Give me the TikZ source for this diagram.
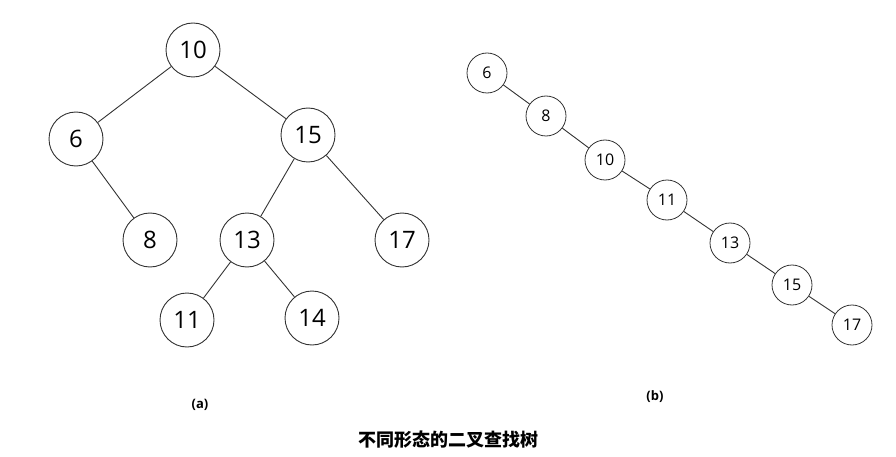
\documentclass[tikz,border=0pt]{standalone}
\usepackage{fontspec}
\setmainfont{Open Sans}
\newfontfamily\cjk{Noto Sans CJK SC}
\definecolor{ln}{HTML}{333333}
\begin{document}
\begin{tikzpicture}[x=1pt,y=-1pt,
  big/.style={circle,draw=ln,line width=0.9pt,minimum size=54pt,inner sep=0pt,font=\fontsize{24}{26}\selectfont},
  small/.style={circle,draw=ln,line width=0.8pt,minimum size=40pt,inner sep=0pt,font=\fontsize{16}{18}\selectfont},
  edge/.style={draw=ln,line width=0.9pt}]
\useasboundingbox (0,0) rectangle (896,457);
\node[big] (a10) at (193,50) {10};
\node[big] (a6) at (76,139) {6};
\node[big] (a15) at (308,135) {15};
\node[big] (a8) at (150,240) {8};
\node[big] (a13) at (247,240) {13};
\node[big] (a17) at (402,240) {17};
\node[big] (a11) at (187,320) {11};
\node[big] (a14) at (312,318) {14};
\draw[edge] (a10)--(a6) (a10)--(a15) (a6)--(a8) (a15)--(a13) (a15)--(a17) (a13)--(a11) (a13)--(a14);
\node[small] (b6) at (487,73) {6};
\node[small] (b8) at (546,116) {8};
\node[small] (b10) at (605,160) {10};
\node[small] (b11) at (667,200) {11};
\node[small] (b13) at (730,243) {13};
\node[small] (b15) at (792,285) {15};
\node[small] (b17) at (852,325) {17};
\draw[edge] (b6)--(b8) (b8)--(b10) (b10)--(b11) (b11)--(b13) (b13)--(b15) (b15)--(b17);
\node[font=\bfseries\fontsize{13}{15}\selectfont] (la) at (200,405) {(a)};
\node[font=\bfseries\fontsize{13}{15}\selectfont] (lb) at (655,397) {(b)};
\node[font=\cjk\bfseries\fontsize{18}{20}\selectfont] (t) at (448,440) {不同形态的二叉查找树};
\end{tikzpicture}
\end{document}
